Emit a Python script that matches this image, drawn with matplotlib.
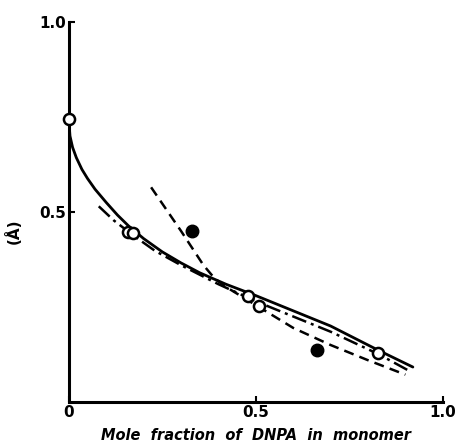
import matplotlib
matplotlib.use("Agg")
import matplotlib.pyplot as plt

# Data
open_x = [0.0, 0.157, 0.172, 0.48, 0.508, 0.826]
open_y = [0.745, 0.447, 0.445, 0.279, 0.253, 0.129]
closed_x = [0.329, 0.663]
closed_y = [0.45, 0.137]

solid_x = [0.0, 0.003, 0.01, 0.02, 0.035, 0.05, 0.07, 0.1, 0.13, 0.16, 0.2, 0.25,
           0.3, 0.35, 0.42, 0.5, 0.6, 0.7, 0.83, 0.92]
solid_y = [0.74, 0.70, 0.67, 0.643, 0.612, 0.588, 0.56, 0.525, 0.492, 0.463, 0.43, 0.395,
           0.366, 0.34, 0.31, 0.28, 0.24, 0.2, 0.135, 0.092]

dashdot_x = [0.08, 0.12, 0.17, 0.23, 0.3, 0.4, 0.5, 0.6, 0.7, 0.83, 0.91]
dashdot_y = [0.515, 0.478, 0.44, 0.398, 0.36, 0.31, 0.265, 0.225, 0.185, 0.125, 0.082]

dashed_x = [0.22, 0.3, 0.36, 0.39, 0.42, 0.45, 0.5, 0.6, 0.7, 0.8, 0.9]
dashed_y = [0.565, 0.45, 0.36, 0.325, 0.303, 0.285, 0.255, 0.195, 0.15, 0.11, 0.072]

xticks = [0, 0.5, 1.0]
xticklabels = ["0", "0.5", "1.0"]
yticks = [0.5, 1.0]
yticklabels = ["0.5", "1.0"]

fig = plt.figure(figsize=(4.56, 4.45), dpi=100)
ax = fig.add_axes([0.151, 0.0966, 0.82, 0.854])

ax.plot(solid_x, solid_y, color="black", lw=2.0, solid_capstyle="round",
        solid_joinstyle="round")
ax.plot(dashdot_x, dashdot_y, color="black", lw=1.8, linestyle=(0, (6, 2, 1.2, 2)))
ax.plot(dashed_x, dashed_y, color="black", lw=1.8, linestyle=(0, (4, 2.5)))

ax.plot(open_x, open_y, "o", mfc="white", mec="black", mew=1.8, ms=8, zorder=5, clip_on=False)
ax.plot(closed_x, closed_y, "o", color="black", ms=9, zorder=5)

ax.set_xlim(0, 1.0)
ax.set_ylim(0, 1.0)
for s in ["top", "right"]:
    ax.spines[s].set_visible(False)
for s in ["left", "bottom"]:
    ax.spines[s].set_linewidth(2.2)

ax.set_xticks(xticks)
ax.set_xticklabels(xticklabels, fontsize=11, fontweight="bold")
ax.set_yticks(yticks)
ax.set_yticklabels(yticklabels, fontsize=11, fontweight="bold")
ax.tick_params(axis="both", direction="in", length=4, width=1.5, pad=2)

ax.set_xlabel("Mole  fraction  of  DNPA  in  monomer", fontsize=10.5,
              fontweight="bold", style="italic", labelpad=6)
ax.set_ylabel("(Å)", fontsize=11, fontweight="bold")
ax.yaxis.set_label_coords(-0.125, 0.45)

fig.savefig("out.png", dpi=100)
